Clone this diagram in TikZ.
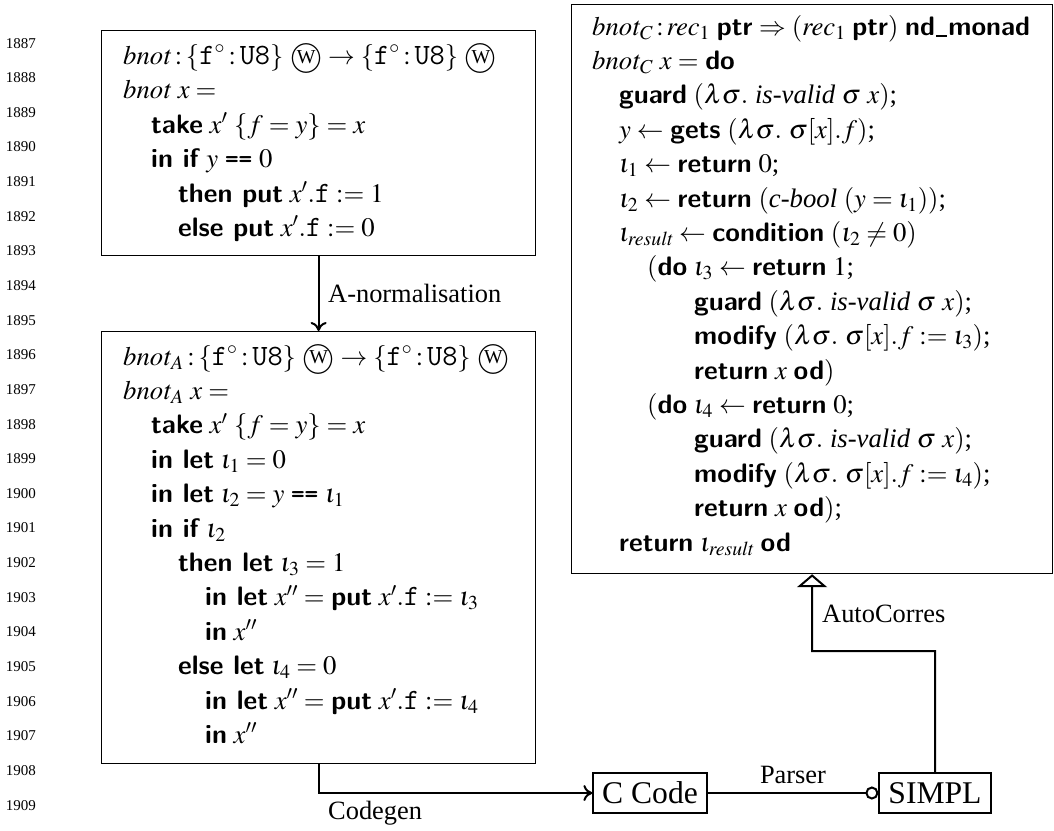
\documentclass[tikz,border=0pt]{standalone}
\usepackage{mathptmx}
\usepackage{fontspec}
\setmainfont{Liberation Serif}
\usetikzlibrary{arrows.meta}
\newcommand\kw[1]{\textsf{\bfseries #1}}
\newcommand\ttx[1]{\mbox{\fontsize{29.5}{34}\selectfont\ttfamily #1}}
\newcommand\eqeq{\mbox{\fontsize{26}{34}\selectfont\ttfamily\bfseries ==}}
\newcommand\uscore{\kern0.04em\rule[-0.06em]{0.42em}{0.07em}\kern0.04em}
\newcommand\circW{\mbox{\ooalign{\raisebox{-0.08em}{\scalebox{1.2}{$\bigcirc$}}\cr\hidewidth\raisebox{0.12ex}{\scalebox{0.74}{W}}\hidewidth\cr}}}
\tikzset{
  codeline/.style={anchor=base west, inner sep=0pt, font=\fontsize{26.7}{34.4}\selectfont},
  frame/.style={draw, line width=1.2pt, inner sep=0pt, anchor=north west},
  lbl/.style={anchor=base west, inner sep=0pt, font=\fontsize{26.4}{30}\selectfont},
  conn/.style={line width=2pt},
  lineno/.style={anchor=base east, inner sep=0pt, font=\fontsize{15}{16}\selectfont},
  smallbox/.style={draw, line width=1.2pt, inner sep=0pt, minimum height=40pt, font=\fontsize{31.6}{36}\selectfont},
  tohead/.style={-{Computer Modern Rightarrow[length=9pt,width=16pt]}},
}
\begin{document}
\begin{tikzpicture}[x=1pt,y=-1pt]
\useasboundingbox (0,0) rectangle (1054,830);
% line numbers
\foreach \i in {0,...,22}{
  \pgfmathtruncatemacro\n{1887+\i}
  \node[lineno] (ln\i) at (36,{48+34.64*\i}) {\n};
}
% boxes
\node[frame, minimum width=434pt, minimum height=225pt] (box1) at (101,30) {};
\node[frame, minimum width=434pt, minimum height=432pt] (box2) at (101,331) {};
\node[frame, minimum width=481pt, minimum height=569pt] (box3) at (571,4) {};
\node[smallbox, minimum width=114pt] (ccode) at (650,793) {C Code};
\node[smallbox, minimum width=112pt] (simpl) at (935,793) {SIMPL};

% box 1 text
\def\La{123}\def\Lb{151}\def\Lc{178}\def\Ld{205}
\node[codeline] (a1) at (\La,64.5) {$\mathit{bnot}\:{:}\:\{\ttx{f}^{\circ}\:{:}\:\ttx{U8}\}\ \circW \rightarrow \{\ttx{f}^{\circ}\:{:}\:\ttx{U8}\}\ \circW$};
\node[codeline] (a2) at (\La,98.9) {$\mathit{bnot}\ x =$};
\node[codeline] (a3) at (\Lb,133.3) {\kw{take} $x'\ \{f = y\} = x$};
\node[codeline] (a4) at (\Lb,167.7) {\kw{in if} $y$ \eqeq{} $0$};
\node[codeline] (a5) at (\Lc,202.1) {\kw{then put} $x'.\ttx{f} := 1$};
\node[codeline] (a6) at (\Lc,236.5) {\kw{else put} $x'.\ttx{f} := 0$};

% box 2 text
\node[codeline] (b1) at (\La,365) {$\mathit{bnot}_A\:{:}\:\{\ttx{f}^{\circ}\:{:}\:\ttx{U8}\}\ \circW \rightarrow \{\ttx{f}^{\circ}\:{:}\:\ttx{U8}\}\ \circW$};
\node[codeline] (b2) at (\La,399.4) {$\mathit{bnot}_A\ x =$};
\node[codeline] (b3) at (\Lb,433.8) {\kw{take} $x'\ \{f = y\} = x$};
\node[codeline] (b4) at (\Lb,468.2) {\kw{in let} $\iota_1 = 0$};
\node[codeline] (b5) at (\Lb,502.6) {\kw{in let} $\iota_2 = y$ \eqeq{} $\iota_1$};
\node[codeline] (b6) at (\Lb,537) {\kw{in if} $\iota_2$};
\node[codeline] (b7) at (\Lc,571.4) {\kw{then let} $\iota_3 = 1$};
\node[codeline] (b8) at (\Ld,605.8) {\kw{in let} $x'' =$ \kw{put} $x'.\ttx{f} := \iota_3$};
\node[codeline] (b9) at (\Ld,640.2) {\kw{in} $x''$};
\node[codeline] (b10) at (\Lc,674.6) {\kw{else let} $\iota_4 = 0$};
\node[codeline] (b11) at (\Ld,709) {\kw{in let} $x'' =$ \kw{put} $x'.\ttx{f} := \iota_4$};
\node[codeline] (b12) at (\Ld,743.4) {\kw{in} $x''$};

% box 3 text
\def\Ma{592}\def\Mb{619}\def\Mc{647}\def\Md{694}
\node[codeline] (c1) at (\Ma,35) {$\mathit{bnot}_C\,{:}\,\mathit{rec}_1$ \kw{ptr} $\Rightarrow (\mathit{rec}_1$ \kw{ptr}$)$ \kw{nd\uscore monad}};
\node[codeline] (c2) at (\Ma,69.4) {$\mathit{bnot}_C\ x =$ \kw{do}};
\node[codeline] (c3) at (\Mb,103.8) {\kw{guard} $(\lambda\sigma.\ \textit{is-valid}\ \sigma\ x)$;};
\node[codeline] (c4) at (\Mb,138.2) {$y \leftarrow$ \kw{gets} $(\lambda\sigma.\ \sigma[x].f)$;};
\node[codeline] (c5) at (\Mb,172.6) {$\iota_1 \leftarrow$ \kw{return} $0$;};
\node[codeline] (c6) at (\Mb,207) {$\iota_2 \leftarrow$ \kw{return} $(\textit{c-bool}\ (y = \iota_1))$;};
\node[codeline] (c7) at (\Mb,241.4) {$\iota_{\mathit{result}} \leftarrow$ \kw{condition} $(\iota_2 \neq 0)$};
\node[codeline] (c8) at (\Mc,275.8) {$($\kw{do} $\iota_3 \leftarrow$ \kw{return} $1$;};
\node[codeline] (c9) at (\Md,310.2) {\kw{guard} $(\lambda\sigma.\ \textit{is-valid}\ \sigma\ x)$;};
\node[codeline] (c10) at (\Md,344.6) {\kw{modify} $(\lambda\sigma.\ \sigma[x].f := \iota_3)$;};
\node[codeline] (c11) at (\Md,379) {\kw{return} $x$ \kw{od}$)$};
\node[codeline] (c12) at (\Mc,413.4) {$($\kw{do} $\iota_4 \leftarrow$ \kw{return} $0$;};
\node[codeline] (c13) at (\Md,447.8) {\kw{guard} $(\lambda\sigma.\ \textit{is-valid}\ \sigma\ x)$;};
\node[codeline] (c14) at (\Md,482.2) {\kw{modify} $(\lambda\sigma.\ \sigma[x].f := \iota_4)$;};
\node[codeline] (c15) at (\Md,516.6) {\kw{return} $x$ \kw{od}$)$;};
\node[codeline] (c16) at (\Mb,551) {\kw{return} $\iota_{\mathit{result}}$ \kw{od}};

% connectors
\draw[conn, tohead] (box1.south) -- (box2.north);
\node[lbl] (lanorm) at (328,302) {A-normalisation};
\draw[conn, tohead] (box2.south) |- (ccode.west);
\node[lbl] (lcodegen) at (328,819) {Codegen};
\draw[conn, -{Circle[open,length=13pt,width=13pt]}] (ccode.east) -- (simpl.west);
\node[lbl, anchor=base] (lparser) at (793,783) {Parser};
\coordinate (acbend) at (812,651);
\draw[conn, -{Triangle[open,length=13pt,width=30pt]}] (simpl.north) |- (acbend) -- (box3.south);
\node[lbl] (lauto) at (822,622) {AutoCorres};
\end{tikzpicture}
\end{document}
